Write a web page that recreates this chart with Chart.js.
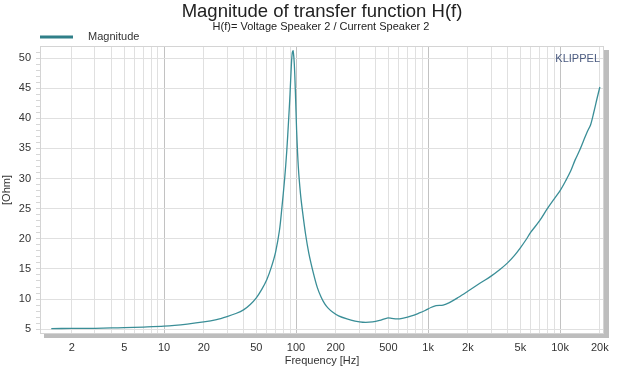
<!DOCTYPE html>
<html>
<head>
<meta charset="utf-8">
<script src="https://cdn.jsdelivr.net/npm/chart.js@4/dist/chart.umd.min.js"></script>
<style>
  html, body { margin: 0; padding: 0; background: #fff; }
</style>
</head>
<body>
<canvas id="c" width="637" height="370"></canvas>
<script>
// ── data ──
const freqs = [1.4, 2, 3, 4, 5, 7, 10, 15, 20, 25, 30, 35, 40, 45, 50, 55, 60, 65, 70, 75,
  78, 82, 85, 88, 90, 92, 93.5, 95, 97, 99, 101, 104, 108, 112, 118, 125, 135, 145, 155, 165, 175,
  190, 210, 243, 280, 320, 380, 430, 490, 530, 580, 650, 750, 850, 950, 1050, 1150, 1300, 1450, 1700,
  2000, 2500, 3000, 3500, 4000, 4500, 5000, 5500, 6000, 7000, 8000, 9000, 10000, 11000, 12000,
  13000, 14000, 15000, 16000, 17000, 18000, 19000, 20000];
const ohms = [5.1, 5.12, 5.15, 5.2, 5.25, 5.35, 5.5, 5.85, 6.2, 6.6, 7.1, 7.6, 8.2, 9.1, 10.2, 11.6, 13.2, 15.3, 17.8, 21.5,
  25, 30, 34.5, 40, 44, 48.5, 50.8, 51.2, 49, 44, 38, 32, 27.5, 24.5, 20.8, 17.6, 14.4, 11.9, 10.3, 9.2, 8.5,
  7.8, 7.2, 6.7, 6.35, 6.15, 6.2, 6.45, 6.85, 6.8, 6.7, 6.85, 7.2, 7.65, 8.1, 8.6, 8.9, 9.0, 9.4, 10.3,
  11.3, 12.7, 13.8, 14.9, 16.0, 17.2, 18.5, 19.8, 21.1, 23.0, 25.0, 26.6, 28.0, 29.6, 31.2,
  33.1, 34.6, 36.2, 37.7, 38.9, 41.0, 43.2, 45.2];

const xGridVals = [2, 3, 4, 5, 6, 7, 8, 9, 10, 20, 30, 40, 50, 60, 70, 80, 90, 100,
  200, 300, 400, 500, 600, 700, 800, 900, 1000, 2000, 3000, 4000, 5000, 6000, 7000, 8000, 9000,
  10000, 20000];
const xTickLabels = { 2: '2', 5: '5', 10: '10', 20: '20', 50: '50', 100: '100', 200: '200',
  500: '500', 1000: '1k', 2000: '2k', 5000: '5k', 10000: '10k', 20000: '20k' };
const yTickLabels = [5, 10, 15, 20, 25, 30, 35, 40, 45, 50];

const TEAL = '#3a8e97';
const TEXT = '#333333';
const FONT = '"Liberation Sans", Arial, sans-serif';

const decade = v => [10, 100, 1000, 10000].includes(v);

// titel, legende, rahmen, schatten
const decor = {
  id: 'decor',
  beforeDraw(chart) {
    const { ctx, chartArea: a } = chart;
    ctx.save();
    ctx.fillStyle = '#fff';
    ctx.fillRect(0, 0, chart.width, chart.height);
    ctx.fillStyle = '#bdbdbd';
    ctx.fillRect(a.right, a.top + 4, 5, a.bottom - a.top);
    ctx.fillRect(a.left + 4, a.bottom, a.right - a.left, 4);
    ctx.fillStyle = '#fff';
    ctx.fillRect(a.left, a.top, a.right - a.left, a.bottom - a.top);
    ctx.restore();
  },
  afterDraw(chart) {
    const { ctx, chartArea: a } = chart;
    ctx.save();
    ctx.strokeStyle = '#d4d4d4';
    ctx.lineWidth = 1;
    ctx.strokeRect(a.left + 0.5, a.top + 0.5, a.right - a.left - 1, a.bottom - a.top - 1);

    ctx.fillStyle = '#222';
    ctx.textAlign = 'center';
    ctx.textBaseline = 'middle';
    ctx.font = '18.5px ' + FONT;
    ctx.fillText('Magnitude of transfer function H(f)', 322, 12);
    ctx.font = '11px ' + FONT;
    ctx.fillText('H(f)= Voltage Speaker 2 / Current Speaker 2', 321, 27);

    ctx.strokeStyle = '#2f7f88';
    ctx.lineWidth = 3;
    ctx.beginPath();
    ctx.moveTo(40, 37);
    ctx.lineTo(73, 37);
    ctx.stroke();
    ctx.textAlign = 'left';
    ctx.fillStyle = TEXT;
    ctx.fillText('Magnitude', 88, 37);

    ctx.fillStyle = '#4b5b80';
    ctx.font = '11px ' + FONT;
    ctx.textAlign = 'right';
    ctx.fillText('KLIPPEL', a.right - 4, 59);
    ctx.restore();
  }
};

new Chart(document.getElementById('c'), {
  type: 'line',
  data: {
    datasets: [{
      label: 'Magnitude',
      data: freqs.map((f, i) => ({ x: f, y: ohms[i] })),
      borderColor: TEAL,
      borderWidth: 1.3,
      pointRadius: 0,
      tension: 0.3,
      fill: false,
    }]
  },
  options: {
    responsive: false,
    animation: false,
    layout: { padding: { top: 46, right: 33, bottom: 0, left: 0 } },
    plugins: { legend: { display: false }, title: { display: false }, tooltip: { enabled: false } },
    scales: {
      x: {
        type: 'logarithmic',
        min: 1.15,
        max: 21500,
        afterBuildTicks: s => { s.ticks = xGridVals.map(v => ({ value: v })); },
        afterFit: s => { s.height = 36; },
        border: { display: false },
        grid: {
          color: c => decade(c.tick.value) ? '#c2c2c2' : '#e0e0e0',
          drawTicks: false,
        },
        ticks: {
          autoSkip: false,
          maxRotation: 0,
          padding: 7,
          color: TEXT,
          font: { family: FONT, size: 11 },
          callback: v => xTickLabels[v] || '',
        },
        title: {
          display: true,
          text: 'Frequency [Hz]',
          color: TEXT,
          font: { family: FONT, size: 11 },
          padding: { top: 0, bottom: 2 },
        },
      },
      y: {
        min: 4.2,
        max: 52,
        afterBuildTicks: s => {
          const t = [];
          for (let v = 5; v <= 51; v++) t.push({ value: v });
          s.ticks = t;
        },
        afterFit: s => { s.width = 40; },
        border: { display: false },
        grid: {
          color: c => yTickLabels.includes(c.tick.value) ? '#e0e0e0' : 'rgba(0,0,0,0)',
          tickColor: '#d6d6d6',
          tickLength: 4,
        },
        ticks: {
          autoSkip: false,
          padding: 5,
          color: TEXT,
          font: { family: FONT, size: 11 },
          callback: v => yTickLabels.includes(v) ? String(v) : '',
        },
        title: {
          display: true,
          text: '[Ohm]',
          color: TEXT,
          font: { family: FONT, size: 11 },
          padding: { top: 0, bottom: 0 },
        },
      }
    }
  },
  plugins: [decor]
});
</script>
</body>
</html>
